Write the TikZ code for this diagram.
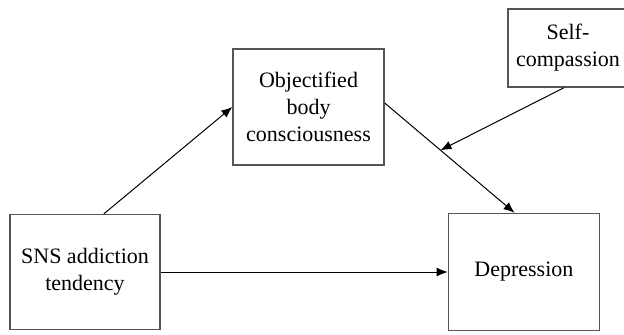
\documentclass[tikz,border=0pt]{standalone}
\usepackage{fontspec}
\setmainfont{Liberation Serif}
\usetikzlibrary{positioning,arrows.meta}
\definecolor{BoxLine}{HTML}{555555}

\begin{document}
\begin{tikzpicture}[
      x=0.5pt, y=-0.5pt,
      every node/.style={font=\fontsize{11}{13.5}\selectfont},
      box/.style={draw=BoxLine, line width=0.7pt, align=center, inner sep=0pt},
      arrow/.style={-{Latex[length=5.5pt,width=4.5pt]}, line width=0.5pt, draw=black}
    ]
    \useasboundingbox (0,0) rectangle (624,334);
    \node[box, minimum width=75pt, minimum height=57.5pt] (sns) at (85,272) {SNS addiction\\tendency};
    \node[box, minimum width=75.5pt, minimum height=58.5pt, right=143.5pt of sns] (dep) {Depression};
    \node[box, minimum width=75.5pt, minimum height=58pt] (obj) at (308.5,107) {Objectified\\body\\consciousness};
    \node[box, minimum width=60pt, minimum height=39pt] (self) at (568,48) {Self-\\compassion};

    \draw[arrow] (sns.72) -- (obj.west);
    \draw[arrow] (obj.3) -- coordinate[pos=0.43] (mod) (dep.99);
    \draw[arrow] ([xshift=-2pt]self.south) -- (mod);
    \draw[arrow] (sns.east) -- (sns.east -| dep.west);
  \end{tikzpicture}
\end{document}
